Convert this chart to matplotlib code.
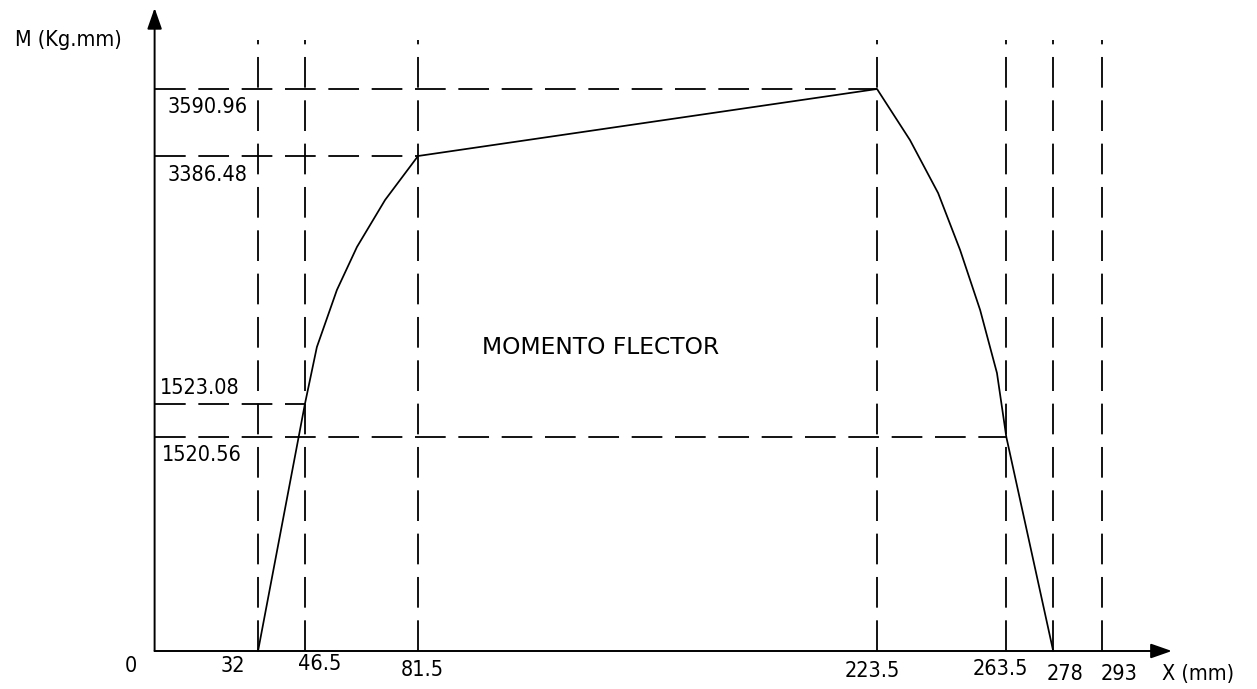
import numpy as np
import matplotlib
matplotlib.use('Agg')
import matplotlib.pyplot as plt
from matplotlib import font_manager

# Section positions along the shaft (mm) and the moment values (Kg.mm)
x_marks = [32, 46.5, 81.5, 223.5, 263.5, 278, 293]
x_labels = ['32', '46.5', '81.5', '223.5', '263.5', '278', '293']
m_levels = [3590.96, 3386.48, 1523.08, 1520.56]
m_level_ends = [223.5, 81.5, 46.5, 263.5]   # x where each dashed level line stops

# Bending moment diagram
curve_x = [32, 46.5, 50.2, 56.4, 62.6, 71.3, 81.5, 223.5,
           233.7, 242.4, 249.2, 255.4, 260.6, 263.5, 278]
curve_m = [0, 1523.08, 1951, 2380, 2703, 3056, 3386.48, 3590.96,
           3435, 3108, 2680, 2229, 1756, 1520.56, 0]

# The original drawing is not to scale vertically: piecewise mapping of
# moment values to drawing height (pixels above the x axis)
scale_vals = [-1000, 0, 1520.56, 1523.08, 3386.48, 3590.96, 5000]
scale_px = [-140.7, 0, 214, 247, 495, 562, 1023.7]


def fwd(v):
    return np.interp(v, scale_vals, scale_px)


def inv(h):
    return np.interp(h, scale_px, scale_vals)


# pick a narrow font if one is installed
names = {(f.name, f.stretch) for f in font_manager.fontManager.ttflist}
stretch = 'condensed' if ('DejaVu Sans', 'condensed') in names else 'normal'
num_font = dict(family='DejaVu Sans', stretch=stretch, size=15.5)

fig = plt.figure(figsize=(12.57, 6.89), dpi=100)
ax = fig.add_axes([0, 0, 1, 1])
ax.set_yscale('function', functions=(fwd, inv))
ax.set_xlim(-47.83, 341.05)
ax.set_ylim(inv(-38), inv(651))
ax.axis('off')

dash = dict(color='black', lw=1.3, linestyle=(0, (17, 7)))

# vertical dashed lines
dash_top = inv(611)
for xm in x_marks:
    ax.plot([xm, xm], [0, dash_top], **dash)

# horizontal dashed lines
for lv, xe in zip(m_levels, m_level_ends):
    ax.plot([0, xe], [lv, lv], **dash)

# moment curve
ax.plot(curve_x, curve_m, color='black', lw=1.25)

# axes with arrows
arrow = dict(arrowstyle='-|>,head_length=0.4,head_width=0.14', mutation_scale=32,
             color='black', lw=1.4, shrinkA=0, shrinkB=0)
ax.annotate('', xy=(0, inv(643)), xytext=(0, 0), arrowprops=arrow)
ax.annotate('', xy=(314.7, 0), xytext=(0, 0), arrowprops=arrow)

# level labels
level_offsets = [(13, -18), (13, -19), (5, 16), (7, -18)]
for lv, (dx, dy) in zip(m_levels, level_offsets):
    ax.annotate(f'{lv:.2f}', xy=(0, lv), xytext=(dx, dy), textcoords='offset pixels',
                ha='left', va='center', **num_font)

# x labels
x_offsets = [(-25, -15), (15, -13), (4, -19), (-5, -20), (-6, -18), (12, -23), (17, -23)]
for xm, lab, (dx, dy) in zip(x_marks, x_labels, x_offsets):
    ax.annotate(lab, xy=(xm, 0), xytext=(dx, dy), textcoords='offset pixels',
                ha='center', va='center', **num_font)
ax.annotate('0', xy=(0, 0), xytext=(-24, -15), textcoords='offset pixels',
            ha='center', va='center', **num_font)
ax.annotate('X (mm)', xy=(0, 0), xytext=(1198 - 154.6, -23), textcoords='offset pixels',
            ha='center', va='center', **num_font)

fig.text(68 / 1257, 1 - 40 / 689, 'M (Kg.mm)', ha='center', va='center', **num_font)
fig.text(601 / 1257, 1 - 347 / 689, 'MOMENTO FLECTOR', ha='center', va='center',
         family='DejaVu Sans', size=16.8)

fig.savefig('out.png', dpi=100)
